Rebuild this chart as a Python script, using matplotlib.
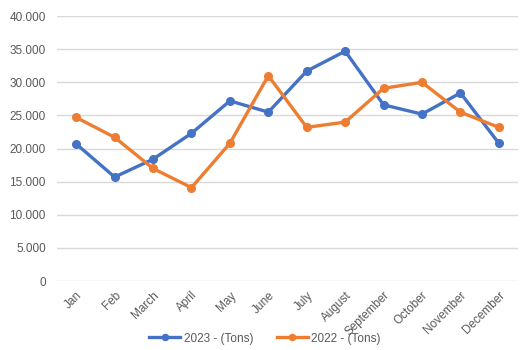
import matplotlib
matplotlib.use("Agg")
from matplotlib import pyplot as plt
import numpy as np

months = ["Jan", "Feb", "March", "April", "May", "June", "July", "August",
          "September", "October", "November", "December"]
tons2023 = [20700, 15700, 18400, 22300, 27200, 25500, 31700, 34700, 26600, 25200, 28400, 20800]
tons2022 = [24700, 21700, 17000, 14100, 20800, 31000, 23200, 24000, 29100, 30000, 25500, 23200]
yticks = [0, 5000, 10000, 15000, 20000, 25000, 30000, 35000, 40000]

plt.rcParams['font.family'] = ['Liberation Sans', 'DejaVu Sans']

fig = plt.figure(figsize=(5.3, 3.5), dpi=100)
ax = fig.add_axes([0.1075, 0.197, 0.87, 0.757])

x = np.arange(len(months))
ax.plot(x, tons2023, color="#4472C4", lw=2.4, marker="o", ms=5.5, label="2023 - (Tons)", zorder=3)
ax.plot(x, tons2022, color="#ED7D31", lw=2.4, marker="o", ms=5.5, label="2022 - (Tons)", zorder=3)

ax.set_xlim(-0.5, len(months) - 0.5)
ax.set_ylim(0, 40000)
ax.set_yticks(yticks)
ax.set_yticklabels(["0" if v == 0 else f"{v:,}".replace(",", ".") for v in yticks])
ax.set_xticks(x)
ax.set_xticklabels(months, rotation=45, ha="right", rotation_mode="anchor")
ax.tick_params(axis="both", length=0, labelsize=8.5, colors="#595959")
ax.tick_params(axis="x", pad=6)
ax.tick_params(axis="y", pad=8)
ax.grid(axis="y", color="#D9D9D9", lw=1)
ax.set_axisbelow(True)
for s in ax.spines.values():
    s.set_visible(False)

fig.legend(loc="lower center", bbox_to_anchor=(0.5, -0.015), ncol=2, frameon=False,
           fontsize=8.5, labelcolor="#595959", handlelength=2.6, columnspacing=2.0,
           handletextpad=0.3, markerscale=0.8)

fig.savefig("out.png", dpi=100)
